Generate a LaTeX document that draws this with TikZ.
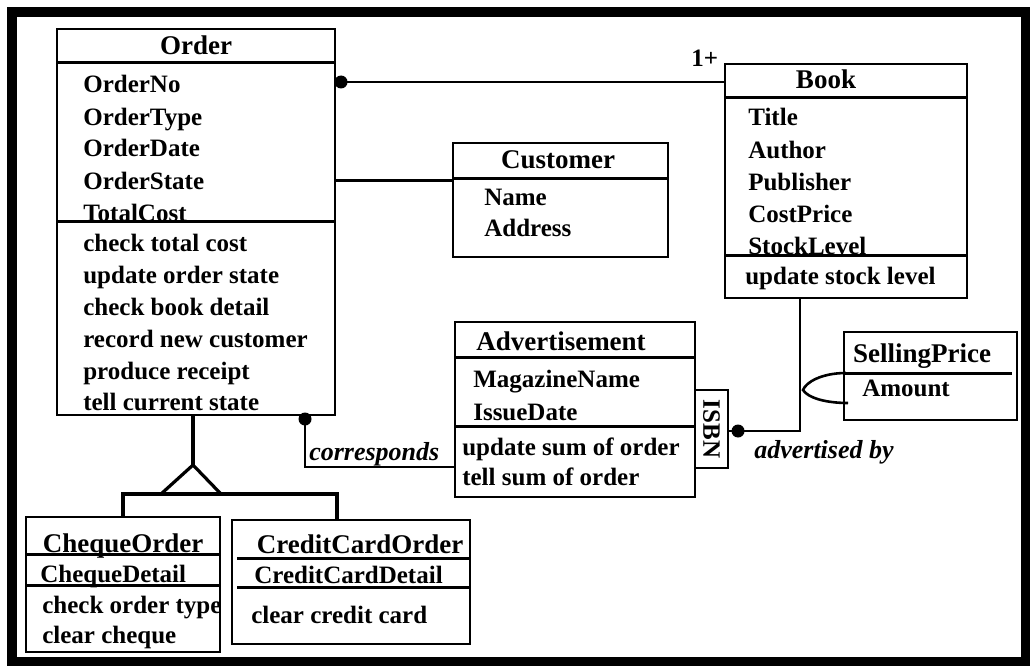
\documentclass[tikz,border=0pt]{standalone}
\usepackage{fontspec}
\setmainfont{Liberation Serif}

\begin{document}
\begin{tikzpicture}[x=1pt,y=-1pt,line width=2.6pt,font=\fontsize{25}{30}\selectfont\bfseries]
    \tikzstyle{class}=[draw,rectangle,anchor=north west,inner sep=0pt,outer sep=0pt]
    \tikzstyle{title}=[anchor=base,inner sep=0pt,font=\fontsize{27}{30}\selectfont\bfseries]
    \tikzstyle{entry}=[anchor=base west,inner sep=0pt]
    \tikzstyle{role}=[anchor=base west,inner sep=0pt,font=\fontsize{26}{30}\selectfont\bfseries\itshape]
    \tikzstyle{dot}=[circle,fill=black,inner sep=0pt,minimum size=13pt]
    \tikzstyle{sep}=[line width=3pt]
    \tikzstyle{isa}=[line width=3.2pt]

    \useasboundingbox (0,0) rectangle (1030,666);
    % Frame
    \draw[line width=10pt] (11.5,12.5) rectangle (1025.5,662);

    % Order class
    \node[class,minimum width=278pt,minimum height=386pt] (order) at (57,29) {};
    \node[title] (order-t) at (196,55) {Order};
    \draw[sep] (57,63) -- (335,63);
    \draw[sep] (57,221) -- (335,221);
    \foreach \name / \txt in {1/OrderNo,2/OrderType,3/OrderDate,4/OrderState,5/TotalCost}
        \node[entry] (OA-\name) at (82,{61+32*\name}) {\txt};
    \foreach \name / \txt in {1/check total cost,2/update order state,3/check book detail,
                              4/record new customer,5/produce receipt,6/tell current state}
        \node[entry] (OM-\name) at (82,{220+31.8*\name}) {\txt};

    % Book class
    \node[class,minimum width=242pt,minimum height=234pt] (book) at (725,64) {};
    \node[title] (book-t) at (826,89) {Book};
    \draw[sep] (725,98) -- (967,98);
    \draw[sep] (725,255) -- (967,255);
    \foreach \name / \txt in {1/Title,2/Author,3/Publisher,4/CostPrice,5/StockLevel}
        \node[entry] (BA-\name) at (747,{94+32*\name}) {\txt};
    \node[entry] (BM-1) at (744,284) {update stock level};

    % Customer class
    \node[class,minimum width=215pt,minimum height=114pt] (customer) at (453,143) {};
    \node[title] (customer-t) at (558,168) {Customer};
    \draw[sep] (453,178) -- (668,178);
    \node[entry] (CA-1) at (483,205) {Name};
    \node[entry] (CA-2) at (483,236) {Address};

    % Advertisement class with its ISBN qualifier
    \node[class,minimum width=240pt,minimum height=175pt] (advert) at (455,322) {};
    \node[title] (advert-t) at (561,350) {Advertisement};
    \draw[sep] (455,357) -- (695,357);
    \draw[sep] (455,426) -- (695,426);
    \node[entry] (AA-1) at (472,387) {MagazineName};
    \node[entry] (AA-2) at (472,420) {IssueDate};
    \node[entry] (AM-1) at (461,455) {update sum of order};
    \node[entry] (AM-2) at (461,485) {tell sum of order};
    \node[class,minimum width=33pt,minimum height=78pt] (isbn) at (695,390) {};
    \node[rotate=-90,inner sep=0pt] (isbn-t) at (isbn.center) {ISBN};

    % SellingPrice class
    \node[class,minimum width=173pt,minimum height=88pt] (price) at (844,332) {};
    \node[title] (price-t) at (922,362) {SellingPrice};
    \draw[sep] (844,373) -- (1012,373);
    \node[entry] (PA-1) at (861,396) {Amount};

    % Subclasses
    \node[class,minimum width=194pt,minimum height=135pt] (cheque) at (26,517) {};
    \node[title] (cheque-t) at (123,552) {ChequeOrder};
    \draw[sep] (26,554) -- (220,554);
    \draw[sep] (26,585) -- (220,585);
    \node[entry] (QA-1) at (39,582) {ChequeDetail};
    \node[entry] (QM-1) at (41,613) {check order type};
    \node[entry] (QM-2) at (41,643) {clear cheque};

    \node[class,minimum width=238pt,minimum height=124pt] (credit) at (232,520) {};
    \node[title] (credit-t) at (360,553) {CreditCardOrder};
    \draw[sep] (237,558) -- (470,558);
    \draw[sep] (237,587) -- (470,587);
    \node[entry] (RA-1) at (253,583) {CreditCardDetail};
    \node[entry] (RM-1) at (250,623) {clear credit card};

    % Associations
    \node[dot] (d-book) at (341,82) {};
    \draw (order.east |- d-book) -- (book.west |- d-book);
    \node[entry] (mult) at (690,67) {1+};
    \draw (order.east |- OA-4) -- (customer.west |- OA-4);

    \node[dot] (d-adv) at (305,419) {};
    \coordinate (adv-in) at (455,467);
    \draw (d-adv.center) |- (adv-in);
    \node[role] (corr) at (308,460) {corresponds};

    \node[dot] (d-isbn) at (738,431) {};
    \draw (isbn.east |- d-isbn) -- (d-isbn.center) -| ([xshift=-46pt]book.south);
    \node[role] (adv-by) at (753,458) {advertised by};
    \draw (846,373) .. controls (822,373) and (806,382) .. (803,390)
                    .. controls (808,398) and (826,403) .. (848,403);

    % Generalisation
    \coordinate (apex) at (193,465);
    \coordinate (bar-r) at (337,494);
    \draw[isa] (order.south -| apex) -- (apex);
    \draw[isa] (161,494) -- (apex) -- (221,494);
    \draw[isa] (cheque.north) |- (bar-r) -- (credit.north -| bar-r);
\end{tikzpicture}
\end{document}
